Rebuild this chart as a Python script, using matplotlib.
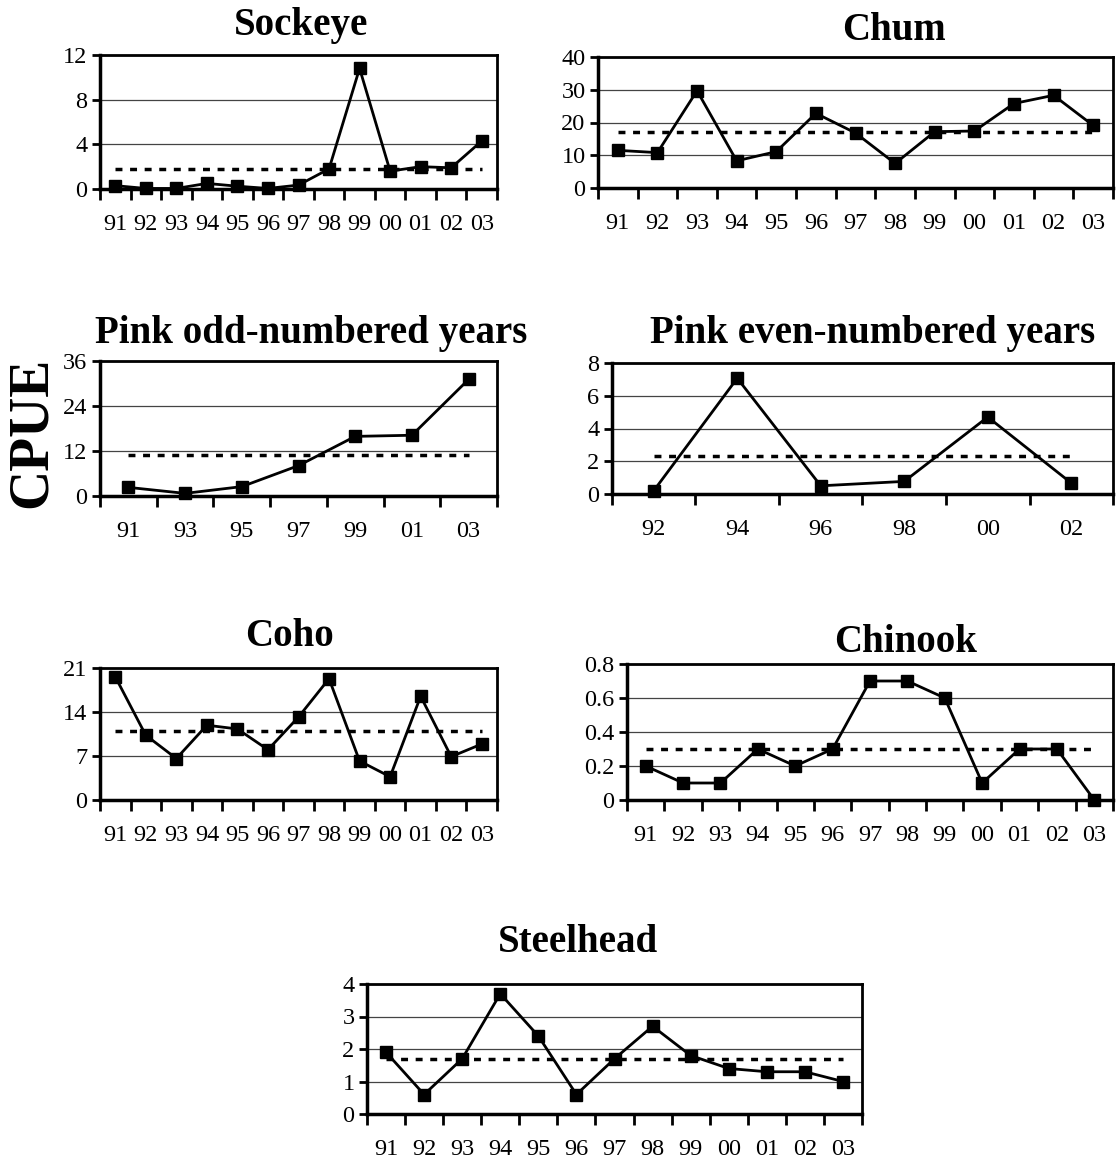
import numpy as np
import matplotlib
matplotlib.use("Agg")
import matplotlib.pyplot as plt

plt.rcParams['font.family'] = ['Liberation Serif', 'DejaVu Serif']

# year labels
yrs_all = ["91", "92", "93", "94", "95", "96", "97", "98", "99", "00", "01", "02", "03"]
yrs_odd = ["91", "93", "95", "97", "99", "01", "03"]
yrs_even = ["92", "94", "96", "98", "00", "02"]

# CPUE values
sockeye = [0.3, 0.05, 0.05, 0.5, 0.25, 0.05, 0.35, 1.8, 10.8, 1.6, 2.0, 1.9, 4.3]
chum = [11.5, 10.8, 29.7, 8.3, 11.1, 22.8, 16.8, 7.5, 17.2, 17.4, 25.8, 28.3, 19.1]
pink_odd = [2.3, 0.7, 2.5, 8.1, 15.9, 16.2, 31.1]
pink_even = [0.2, 7.07, 0.5, 0.77, 4.7, 0.67]
coho = [19.6, 10.3, 6.6, 11.9, 11.3, 8.0, 13.2, 19.3, 6.2, 3.7, 16.5, 6.9, 8.9]
chinook = [0.2, 0.1, 0.1, 0.3, 0.2, 0.3, 0.7, 0.7, 0.6, 0.1, 0.3, 0.3, 0.0]
steelhead = [1.9, 0.6, 1.7, 3.7, 2.4, 0.6, 1.7, 2.7, 1.8, 1.4, 1.3, 1.3, 1.0]

# long-term means (dotted line)
means = [1.8, 17.2, 11.0, 2.3, 11.0, 0.3, 1.7]

titles = ["Sockeye", "Chum", "Pink odd-numbered years", "Pink even-numbered years",
          "Coho", "Chinook", "Steelhead"]
series = [sockeye, chum, pink_odd, pink_even, coho, chinook, steelhead]
labels = [yrs_all, yrs_all, yrs_odd, yrs_even, yrs_all, yrs_all, yrs_all]
yticks = [[0, 4, 8, 12], [0, 10, 20, 30, 40], [0, 12, 24, 36], [0, 2, 4, 6, 8],
          [0, 7, 14, 21], [0, 0.2, 0.4, 0.6, 0.8], [0, 1, 2, 3, 4]]
ytlabels = [None, None, None, None, None, ["0", "0.2", "0.4", "0.6", "0.8"], None]

# panel boxes in pixels: x0, y0(top), x1, y1(bottom)
boxes = [(100, 55, 497, 189), (598, 57, 1113, 188),
         (100, 361, 497, 496), (612, 363, 1113, 494),
         (100, 668, 497, 800), (627, 664, 1113, 800),
         (367, 984, 862, 1114)]
# title centres in pixels
tpos = [(301, 25), (894, 30), (311, 333), (873, 333), (289, 636), (906, 642), (578, 943)]

W, H = 1120, 1162
fig = plt.figure(figsize=(W/100, H/100), dpi=100)

for i in range(7):
    x0, y0, x1, y1 = boxes[i]
    ax = fig.add_axes([x0/W, 1 - y1/H, (x1-x0)/W, (y1-y0)/H])
    vals = series[i]
    n = len(vals)
    x = np.arange(n)
    ax.plot(x, vals, color="black", lw=2, marker="s", ms=8.5, zorder=4, clip_on=False)
    ax.plot([x[0], x[-1]], [means[i], means[i]], color="black", lw=2.5,
            ls=(0, (2, 2.2)), zorder=3)
    ax.set_xlim(-0.5, n - 0.5)
    yt = yticks[i]
    ax.set_ylim(yt[0], yt[-1])
    ax.set_yticks(yt)
    if ytlabels[i] is not None:
        ax.set_yticklabels(ytlabels[i])
    ax.set_xticks(np.arange(n + 1) - 0.5)
    ax.set_xticklabels([])
    ax.set_xticks(x, minor=True)
    ax.set_xticklabels(labels[i], minor=True)
    ax.tick_params(axis="x", which="major", direction="out", length=8, width=2)
    ax.tick_params(axis="x", which="minor", length=0, pad=18, labelsize=17.5)
    ax.tick_params(axis="y", direction="out", length=6, width=2, pad=3, labelsize=17.5)
    ax.yaxis.grid(True, color="#444444", lw=0.9)
    ax.set_axisbelow(True)
    for s in ["left", "bottom"]:
        ax.spines[s].set_linewidth(2.5)
    for s in ["top", "right"]:
        ax.spines[s].set_linewidth(2)
    fig.text(tpos[i][0]/W, 1 - tpos[i][1]/H, titles[i], ha="center", va="center",
             fontsize=28, fontweight="bold")

fig.text(32/W, 1 - 432/H, "CPUE", rotation=90, ha="center", va="center",
         fontsize=40, fontweight="bold")

fig.savefig("out.png", dpi=100)
